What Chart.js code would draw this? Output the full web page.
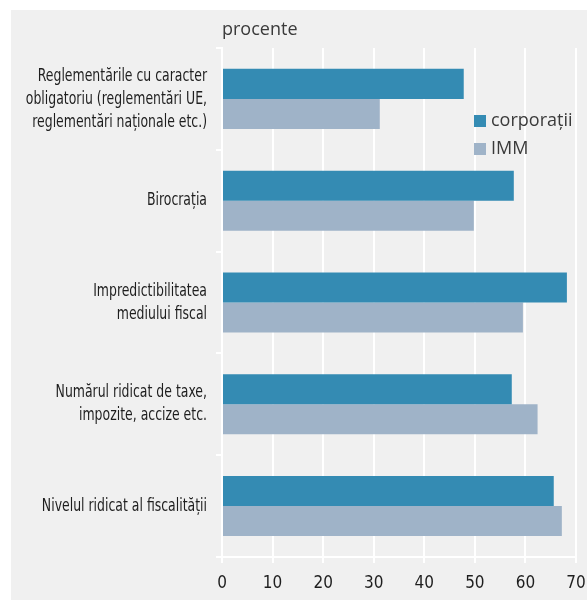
<!DOCTYPE html>
<html>
<head>
<meta charset="utf-8">
<script src="https://cdn.jsdelivr.net/npm/chart.js@4"></script>
<style>
  html, body { margin: 0; padding: 0; background: #fff; }
  #wrap { position: relative; width: 587px; height: 600px; }
</style>
</head>
<body>
<div id="wrap"><canvas id="chart" width="587" height="600"></canvas></div>
<script>
// categories (multi-line labels as arrays)
const categories = [
    ['Reglementările cu caracter', 'obligatoriu (reglementări UE,', 'reglementări naționale etc.)'],
    'Birocrația',
    ['Impredictibilitatea', 'mediului fiscal'],
    ['Numărul ridicat de taxe,', 'impozite, accize etc.'],
    'Nivelul ridicat al fiscalității'
];
const seriesNames = ['corporații', 'IMM'];
const corporatii = [47.8, 57.7, 68.2, 57.3, 65.6];
const imm = [31.2, 49.8, 59.5, 62.4, 67.2];
const unitLabel = 'procente';

const narrow = '"DejaVu Sans Condensed", "DejaVu Sans", sans-serif';
const regular = '"Open Sans", "Noto Sans", sans-serif';

// gray panel behind the chart
const panelBg = {
    id: 'panelBg',
    beforeDraw(chart) {
        const ctx = chart.ctx;
        ctx.save();
        ctx.fillStyle = '#f0f0f0';
        ctx.fillRect(11, 10, chart.width - 11, chart.height - 10);
        ctx.restore();
    }
};

// condensed category labels, unit text and the legend inside the plot
const extras = {
    id: 'extras',
    afterDraw(chart) {
        const ctx = chart.ctx;
        const area = chart.chartArea;
        const yScale = chart.scales.y;
        ctx.save();

        // category labels, squeezed horizontally like the original condensed face
        ctx.font = '18px ' + narrow;
        ctx.fillStyle = '#1e1e1e';
        ctx.textAlign = 'right';
        ctx.textBaseline = 'middle';
        chart.data.labels.forEach((lab, i) => {
            const lines = Array.isArray(lab) ? lab : [lab];
            const yc = yScale.getPixelForTick(i);
            const lh = 23;
            lines.forEach((line, j) => {
                const y = yc + (j - (lines.length - 1) / 2) * lh;
                ctx.save();
                ctx.translate(207, y);
                ctx.scale(0.77, 1);
                ctx.fillText(line, 0, 0);
                ctx.restore();
            });
        });

        ctx.font = '18px ' + regular;
        ctx.fillStyle = '#3a3a3a';
        ctx.textAlign = 'left';
        ctx.fillText(unitLabel, area.left, 30);

        chart.data.datasets.forEach((ds, i) => {
            const y = 121 + i * 28;
            ctx.fillStyle = ds.backgroundColor;
            ctx.fillRect(474, y - 6, 12, 12);
            ctx.fillStyle = '#3a3a3a';
            ctx.fillText(ds.label, 491, y);
        });
        ctx.restore();
    }
};

const chart = new Chart(document.getElementById('chart'), {
    type: 'bar',
    data: {
        labels: categories,
        datasets: [{
            label: seriesNames[0],
            data: corporatii,
            backgroundColor: '#348bb3',
            borderWidth: 0
        }, {
            label: seriesNames[1],
            data: imm,
            backgroundColor: '#9fb3c8',
            borderWidth: 0
        }]
    },
    options: {
        indexAxis: 'y',
        responsive: false,
        animation: false,
        layout: {
            padding: { top: 48, right: 11, left: 0, bottom: 0 }
        },
        datasets: {
            bar: { categoryPercentage: 0.59, barPercentage: 1.0 }
        },
        plugins: {
            legend: { display: false },
            tooltip: { enabled: false }
        },
        scales: {
            x: {
                min: 0,
                max: 70,
                ticks: {
                    stepSize: 10,
                    color: '#1e1e1e',
                    padding: 10,
                    maxRotation: 0,
                    font: { family: narrow, size: 17 }
                },
                grid: { color: '#ffffff', lineWidth: 2, tickLength: 6 },
                border: { color: '#ffffff', width: 2 },
                afterFit(scale) {
                    scale.height = 43;
                    scale.paddingLeft = 0;
                    scale.paddingRight = 0;
                }
            },
            y: {
                ticks: {
                    color: 'rgba(0,0,0,0)',
                    padding: 9,
                    font: { family: narrow, size: 16, lineHeight: 1.42 }
                },
                grid: { offset: true, drawOnChartArea: false, color: '#ffffff', lineWidth: 2, tickLength: 6 },
                border: { color: '#ffffff', width: 2 },
                afterFit(scale) { scale.width = 222; }
            }
        }
    },
    plugins: [panelBg, extras]
});
</script>
</body>
</html>
